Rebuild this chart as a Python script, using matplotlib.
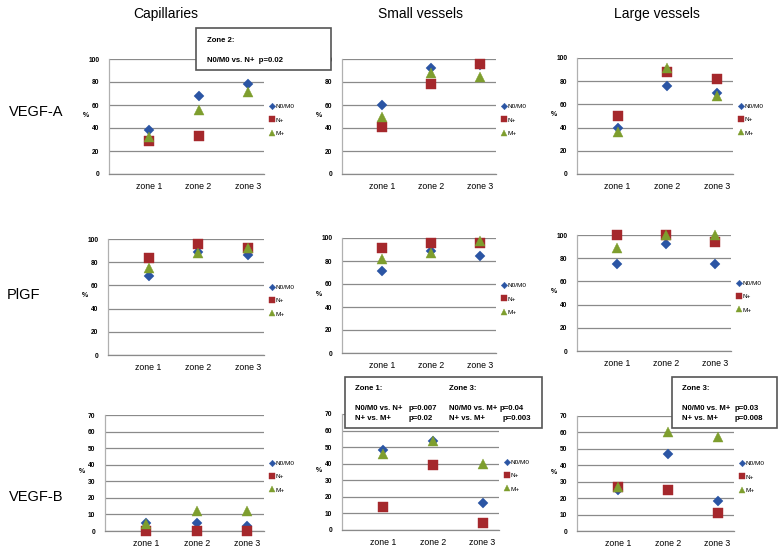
import numpy as np
import matplotlib
matplotlib.use("Agg")
import matplotlib.pyplot as plt
from matplotlib.patches import Rectangle

plt.rcParams['font.family'] = ['Liberation Sans', 'DejaVu Sans']

zones = ["zone 1", "zone 2", "zone 3"]
series_names = ["N0/M0", "N+", "M+"]
col_titles = ["Capillaries", "Small vessels", "Large vessels"]
row_titles = ["VEGF-A", "PlGF", "VEGF-B"]

# VEGF-A
vegfa_cap_n0 = [38, 68, 78]
vegfa_cap_np = [29, 33, np.nan]
vegfa_cap_mp = [32, 56, 71]
vegfa_sv_n0 = [60, 92, 95]
vegfa_sv_np = [41, 78, 96]
vegfa_sv_mp = [50, 88, 84]
vegfa_lv_n0 = [40, 76, 70]
vegfa_lv_np = [50, 88, 82]
vegfa_lv_mp = [36, 91, 67]
# PlGF
plgf_cap_n0 = [68, 89, 86]
plgf_cap_np = [84, 96, 92]
plgf_cap_mp = [75, 88, 92]
plgf_sv_n0 = [71, 89, 84]
plgf_sv_np = [91, 96, 96]
plgf_sv_mp = [82, 87, 97]
plgf_lv_n0 = [75, 92, 75]
plgf_lv_np = [100, 100, 94]
plgf_lv_mp = [89, 100, 100]
# VEGF-B
vegfb_cap_n0 = [5, 5, 3]
vegfb_cap_np = [0, 0, 0]
vegfb_cap_mp = [4, 12, 12]
vegfb_sv_n0 = [48, 54, 16]
vegfb_sv_np = [14, 39, 4]
vegfb_sv_mp = [46, 54, 40]
vegfb_lv_n0 = [25, 47, 18]
vegfb_lv_np = [27, 25, 11]
vegfb_lv_mp = [27, 60, 57]

data = [
    [(vegfa_cap_n0, vegfa_cap_np, vegfa_cap_mp), (vegfa_sv_n0, vegfa_sv_np, vegfa_sv_mp), (vegfa_lv_n0, vegfa_lv_np, vegfa_lv_mp)],
    [(plgf_cap_n0, plgf_cap_np, plgf_cap_mp), (plgf_sv_n0, plgf_sv_np, plgf_sv_mp), (plgf_lv_n0, plgf_lv_np, plgf_lv_mp)],
    [(vegfb_cap_n0, vegfb_cap_np, vegfb_cap_mp), (vegfb_sv_n0, vegfb_sv_np, vegfb_sv_mp), (vegfb_lv_n0, vegfb_lv_np, vegfb_lv_mp)],
]
row_ymax = [100, 100, 70]
row_ystep = [20, 20, 10]

W, H = 778, 549
fig = plt.figure(figsize=(W / 100, H / 100), dpi=100)

# axes boxes in pixels: (left, right, top, bottom)
boxes = [
    [(109, 264, 59, 174), (342, 496, 59, 174), (577, 733, 58, 174)],
    [(108, 264, 239, 355), (342, 496, 238, 353), (577, 731, 235, 351)],
    [(105, 264, 415, 531), (342, 499, 414, 530), (577, 734, 416, 531)],
]

markers = ["D", "s", "^"]
colors = ["#2B55A4", "#A5282C", "#7E9E2E"]
msizes = [5.5, 7.0, 6.5]

x = np.arange(1, 4)
for r in range(3):
    for c in range(3):
        l, rr, t, b = boxes[r][c]
        ax = fig.add_axes([l / W, 1 - b / H, (rr - l) / W, (b - t) / H])
        for k in range(3):
            ax.plot(x, data[r][c][k], linestyle="none", marker=markers[k],
                    color=colors[k], markersize=msizes[k], label=series_names[k],
                    markeredgewidth=0.3, zorder=3, clip_on=False)
        ax.set_xlim(0.18, 3.33)
        ax.set_ylim(0, row_ymax[r])
        ax.set_yticks(np.arange(0, row_ymax[r] + 1, row_ystep[r]))
        ax.set_xticks(x)
        ax.set_xticklabels(zones, fontsize=6.3)
        ax.tick_params(axis="x", length=0, pad=6)
        ax.tick_params(axis="y", length=0, pad=7, labelsize=4.8)
        for lab in ax.get_yticklabels():
            lab.set_fontweight("bold")
        ax.grid(axis="y", color="#8a8a8a", linewidth=0.9)
        ax.set_axisbelow(True)
        for s in ["top", "right"]:
            ax.spines[s].set_visible(False)
        ax.spines["left"].set_color("#b0b0b0")
        ax.spines["bottom"].set_color("#8a8a8a")
        ax.spines["left"].set_linewidth(0.9)
        ax.spines["bottom"].set_linewidth(0.9)
        ax.set_ylabel("%", fontsize=5, fontweight="bold", rotation=0, va="center", ha="center")
        ax.yaxis.set_label_coords(-23.0 / (rr - l), 0.51)
        leg = ax.legend(loc="center left", bbox_to_anchor=(1.0, 0.47), frameon=False,
                        fontsize=4.6, handlelength=0.6, handletextpad=0.3,
                        labelspacing=1.25, markerscale=0.6, borderaxespad=0.5)

# column titles
for cx, title in zip([166, 421, 657], col_titles):
    fig.text(cx / W, 1 - 14 / H, title, fontsize=10, ha="center", va="center")
# row titles
for (rx, ry), title in zip([(36, 112), (24, 295), (36, 497)], row_titles):
    fig.text(rx / W, 1 - ry / H, title, fontsize=10.5, ha="center", va="center")


def box(x0, y0, x1, y1):
    fig.patches.append(Rectangle((x0 / W, 1 - y1 / H), (x1 - x0) / W, (y1 - y0) / H,
                                 transform=fig.transFigure, facecolor="white",
                                 edgecolor="#555555", linewidth=1.2, zorder=5))


def txt(px, py, s):
    fig.text(px / W, 1 - py / H, s, fontsize=5.6, fontweight="bold", ha="left",
             va="center", zorder=6)


# Capillaries VEGF-A annotation
box(196, 28, 331, 70)
txt(207, 41, "Zone 2:")
txt(207, 61, "N0/M0 vs. N+  p=0.02")

# Small vessels VEGF-B annotation
box(345, 377, 542, 428)
txt(355, 388, "Zone 1:")
txt(355, 408, "N0/M0 vs. N+")
txt(409, 408, "p=0.007")
txt(355, 418, "N+ vs. M+")
txt(409, 418, "p=0.02")
txt(449, 388, "Zone 3:")
txt(449, 408, "N0/M0 vs. M+")
txt(500, 408, "p=0.04")
txt(449, 418, "N+ vs. M+")
txt(503, 418, "p=0.003")

# Large vessels VEGF-B annotation
box(672, 377, 777, 428)
txt(682, 388, "Zone 3:")
txt(682, 408, "N0/M0 vs. M+")
txt(735, 408, "p=0.03")
txt(682, 418, "N+ vs. M+")
txt(735, 418, "p=0.008")

fig.savefig("out.png", dpi=100)
